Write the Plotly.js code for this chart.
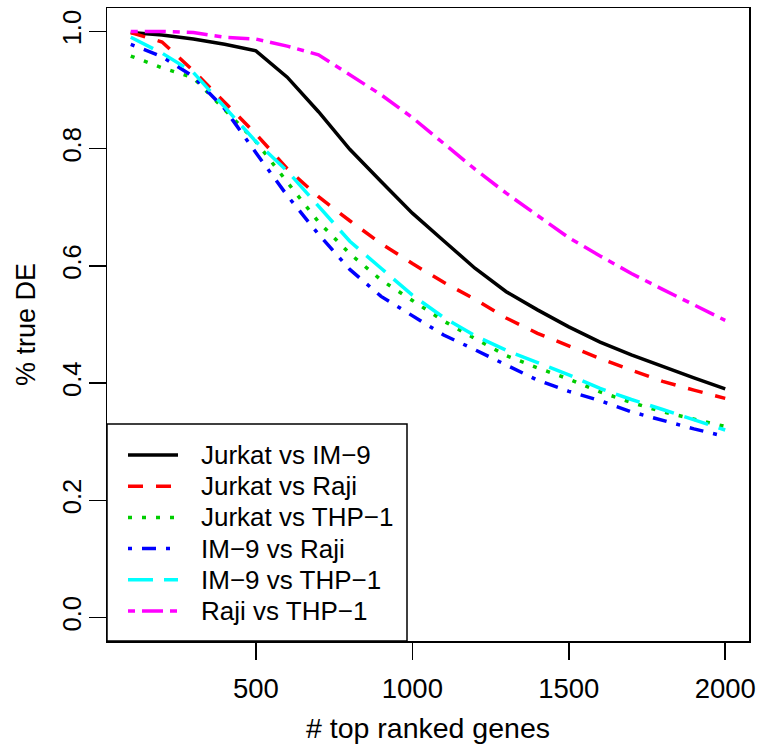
<!DOCTYPE html>
<html>
<head>
<meta charset="utf-8">
<script src="https://cdn.plot.ly/plotly-3.0.1.min.js"></script>
<style>html,body{margin:0;padding:0;background:#fff;}#chart{width:759px;height:744px;}</style>
</head>
<body>
<div id="chart"></div>
<script>
// ---- data ----
var topGenes = [100,200,300,400,500,600,700,800,900,1000,1100,1200,1300,1400,1500,1600,1700,1800,1900,2000];
var jurkatVsIM9   = [0.998,0.994,0.987,0.978,0.967,0.922,0.863,0.799,0.744,0.690,0.643,0.596,0.556,0.525,0.496,0.470,0.448,0.428,0.409,0.390];
var jurkatVsRaji  = [0.998,0.982,0.933,0.879,0.825,0.766,0.718,0.677,0.638,0.604,0.572,0.543,0.511,0.485,0.463,0.442,0.422,0.403,0.388,0.374];
var jurkatVsTHP1  = [0.958,0.938,0.921,0.866,0.812,0.743,0.675,0.621,0.576,0.541,0.506,0.476,0.447,0.426,0.407,0.385,0.367,0.351,0.339,0.326];
var im9VsRaji     = [0.978,0.957,0.923,0.868,0.793,0.720,0.654,0.594,0.548,0.515,0.482,0.457,0.431,0.405,0.386,0.370,0.351,0.336,0.322,0.309];
var im9VsTHP1     = [0.990,0.963,0.930,0.870,0.812,0.762,0.703,0.642,0.596,0.550,0.512,0.481,0.456,0.435,0.414,0.391,0.372,0.355,0.338,0.320];
var rajiVsTHP1    = [1.000,1.000,0.998,0.990,0.987,0.975,0.960,0.926,0.892,0.853,0.809,0.765,0.724,0.686,0.648,0.617,0.587,0.560,0.533,0.507];
var seriesNames = ["Jurkat vs IM\u22129","Jurkat vs Raji","Jurkat vs THP\u22121","IM\u22129 vs Raji","IM\u22129 vs THP\u22121","Raji vs THP\u22121"];
var xTickVals = [500,1000,1500,2000];
var yTickVals = [0,0.2,0.4,0.6,0.8,1.0];
var yTickText = ["0.0","0.2","0.4","0.6","0.8","1.0"];

// ---- styles ----
var seriesValues = [jurkatVsIM9,jurkatVsRaji,jurkatVsTHP1,im9VsRaji,im9VsTHP1,rajiVsTHP1];
var colors = ["#000000","#FF0000","#00CD00","#0000FF","#00FFFF","#FF00FF"];
var dashes = ["solid","15px,13px","4px,10px","4px,10px,14px,10px","25px,11px","7px,7px,21px,7px"];
var LW = 3.5;
var FONT = "Liberation Sans, Arial, Helvetica, sans-serif";

var traces = seriesValues.map(function(v,i){
  return {x: topGenes, y: v, type: "scatter", mode: "lines", name: seriesNames[i],
          line: {color: colors[i], width: LW, dash: dashes[i]}, showlegend: false, hoverinfo: "x+y+name"};
});

// plot area in pixels
var W = 759, H = 744, L = 107, R = 10, T = 8, B = 103;
var pw = W - L - R, ph = H - T - B;
function px2x(p){ return (p - L) / pw; }
function py2y(p){ return (H - B - p) / ph; }

// manual legend box like R's legend()
var shapes = [{type:"rect", xref:"paper", yref:"paper", x0: 0, x1: px2x(407), y0: 0, y1: py2y(424),
               line:{color:"#000", width:1.5}, fillcolor:"rgba(0,0,0,0)", layer:"above"}];
var annotations = [];
var rowY0 = 455, rowStep = 31.2;
seriesNames.forEach(function(n,i){
  var yy = py2y(rowY0 + i*rowStep);
  shapes.push({type:"line", xref:"paper", yref:"paper", x0: px2x(128), x1: px2x(178), y0: yy, y1: yy,
               line:{color: colors[i], width: LW, dash: dashes[i]}, layer:"above"});
  annotations.push({xref:"paper", yref:"paper", x: px2x(199), y: yy, xanchor:"left", yanchor:"middle",
               text: n, showarrow:false, font:{family: FONT, size: 26, color:"#000"}});
});

var layout = {
  width: W, height: H,
  margin: {l: L, r: R, t: T, b: B, pad: 0},
  paper_bgcolor: "#fff", plot_bgcolor: "#fff",
  showlegend: false,
  xaxis: {
    range: [24, 2076], tickvals: xTickVals, ticktext: xTickVals.map(String),
    ticks: "outside", ticklen: 17, tickwidth: 1.5, tickcolor: "#000",
    showline: true, linecolor: "#000", linewidth: 1.5, mirror: true,
    showgrid: false, zeroline: false, ticklabelstandoff: 5,
    tickfont: {family: FONT, size: 27.5, color: "#000"},
    title: {text: "# top ranked genes", font: {family: FONT, size: 28.5, color: "#000"}, standoff: 15}
  },
  yaxis: {
    range: [-0.04, 1.04], tickvals: yTickVals, ticktext: yTickText, tickangle: -90,
    ticks: "outside", ticklen: 17, tickwidth: 1.5, tickcolor: "#000",
    showline: true, linecolor: "#000", linewidth: 1.5, mirror: true,
    showgrid: false, zeroline: false, ticklabelstandoff: -3,
    tickfont: {family: FONT, size: 25.5, color: "#000"},
    title: {text: "% true DE", font: {family: FONT, size: 27, color: "#000"}, standoff: 15}
  },
  shapes: shapes,
  annotations: annotations
};

Plotly.newPlot("chart", traces, layout, {displayModeBar: false, staticPlot: true});
</script>
</body>
</html>
